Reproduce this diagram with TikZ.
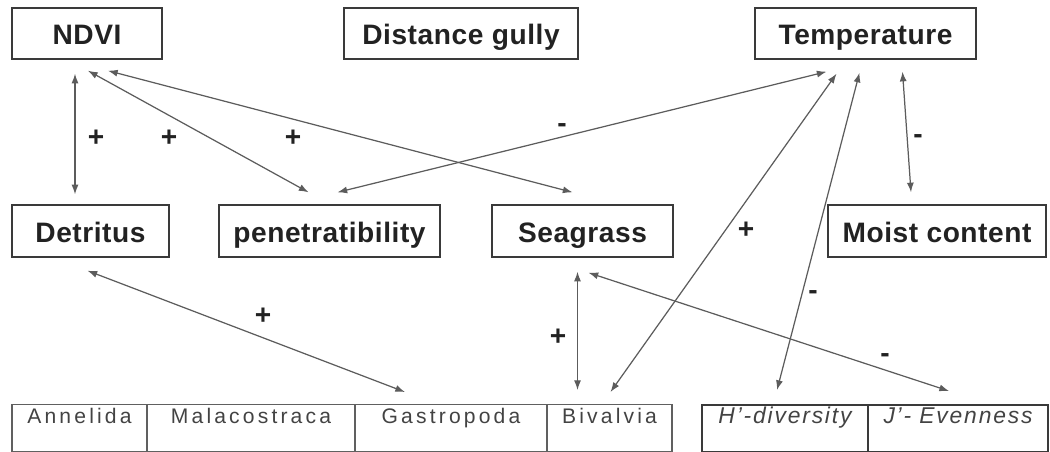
\documentclass[tikz,border=0pt]{standalone}
\usepackage{fontspec}
\setmainfont{Liberation Sans}
\usepackage{tikz}
\usetikzlibrary{arrows.meta}
\usetikzlibrary{calc}
\definecolor{trait}{HTML}{5C5C5C}
\definecolor{bord}{HTML}{3A3A3A}
\definecolor{encre}{HTML}{222222}
\tikzstyle{facteur}=[
        draw=bord,
        line width=0.8pt,
        rectangle,
        inner sep=0pt,
        text height=13pt,
        text depth=0pt,
        text=encre,
        font=\fontsize{16}{19}\selectfont\bfseries\addfontfeature{LetterSpace=2}
]
\tikzstyle{taxon}=[
        draw=gray!75!black,
        line width=0.6pt,
        rectangle,
        anchor=north,
        inner sep=0pt,
        text height=0.38cm,
        text depth=0.56cm,
        text=encre!85,
        font=\fontsize{12}{14}\selectfont\addfontfeature{LetterSpace=15}
]
\tikzstyle{indice}=[taxon,draw=bord,line width=1pt,
font=\fontsize{13}{15}\selectfont\itshape\addfontfeature{LetterSpace=8}]
\tikzstyle{signe}=[inner sep=0pt,text=encre,font=\fontsize{16}{19}\selectfont\bfseries]
\tikzstyle{lien}=[{Latex[length=5.5pt,width=4pt]}-{Latex[length=5.5pt,width=4pt]},draw=trait,line width=0.7pt]

\begin{document}
\begin{tikzpicture}[x=0.02cm,y=-0.02cm]
\useasboundingbox (0,0) rectangle (1050,451);
\node[facteur,minimum width=3cm,minimum height=1.02cm] (ndvi) at (87,33.5) {NDVI};
\node[facteur,minimum width=4.68cm,minimum height=1.02cm] (gully) at (461,33.5) {Distance gully};
\node[facteur,minimum width=4.42cm,minimum height=1.02cm] (temp) at (865.5,33.5) {Temperature};
\node[facteur,minimum width=3.14cm,minimum height=1.04cm] (detritus) at (90.5,231) {Detritus};
\node[facteur,minimum width=4.42cm,minimum height=1.04cm] (penetr) at (329.5,231) {penetratibility};
\node[facteur,minimum width=3.62cm,minimum height=1.04cm] (seagrass) at (582.5,231) {Seagrass};
\node[facteur,minimum width=4.36cm,minimum height=1.04cm] (moist) at (937,231) {Moist content};
\node[taxon,minimum width=2.7cm] (annelida) at (79.5,404) {Annelida};
\node[taxon,minimum width=4.16cm] (malaco) at (251,404) {Malacostraca};
\node[taxon,minimum width=3.84cm] (gastro) at (451,404) {Gastropoda};
\node[taxon,minimum width=2.5cm] (bivalvia) at (609.5,404) {Bivalvia};
\node[indice,minimum width=3.32cm] (hdiv) at (785,404) {H'-diversity};
\node[indice,minimum width=3.6cm] (jeven) at (958,404) {J'- Evenness};
%Signs
\node[signe] (s1) at (96,138) {+};
\node[signe] (s2) at (169,138) {+};
\node[signe] (s3) at (293,138) {+};
\node[signe] (s4) at (562,128) {-};
\node[signe] (s5) at (918,139) {-};
\node[signe] (s6) at (746,230) {+};
\node[signe] (s7) at (263,316) {+};
\node[signe] (s8) at (558,337) {+};
\node[signe] (s9) at (813,295) {-};
\node[signe] (s10) at (885,358) {-};
%Drawing Edges
\draw[lien] ($(ndvi.south)+(-12,14)$) -- ($(detritus.north)+(-15.5,-10)$);
\draw[lien] ($(ndvi.south)+(1,11)$) -- ($(penetr.north)+(-21,-12)$);
\draw[lien] ($(ndvi.south)+(21,11)$) -- ($(seagrass.north)+(-10,-12)$);
\draw[lien] ($(temp.south)+(-39,12)$) -- ($(penetr.north)+(8,-12)$);
\draw[lien] ($(temp.south)+(-29,14)$) -- ($(bivalvia.north)+(1,-12)$);
\draw[lien] ($(temp.south)+(-6,13)$) -- ($(hdiv.north)+(-8,-14)$);
\draw[lien] ($(temp.south)+(37,12)$) -- ($(moist.north)+(-26,-12)$);
\draw[lien] ($(detritus.south)+(-3,13)$) -- ($(gastro.north)+(-46,-12)$);
\draw[lien] ($(seagrass.south)+(-5,14)$) -- ($(bivalvia.north)+(-32,-14)$);
\draw[lien] ($(seagrass.south)+(6,15)$) -- ($(jeven.north)+(-9,-13)$);
\end{tikzpicture}
\end{document}
